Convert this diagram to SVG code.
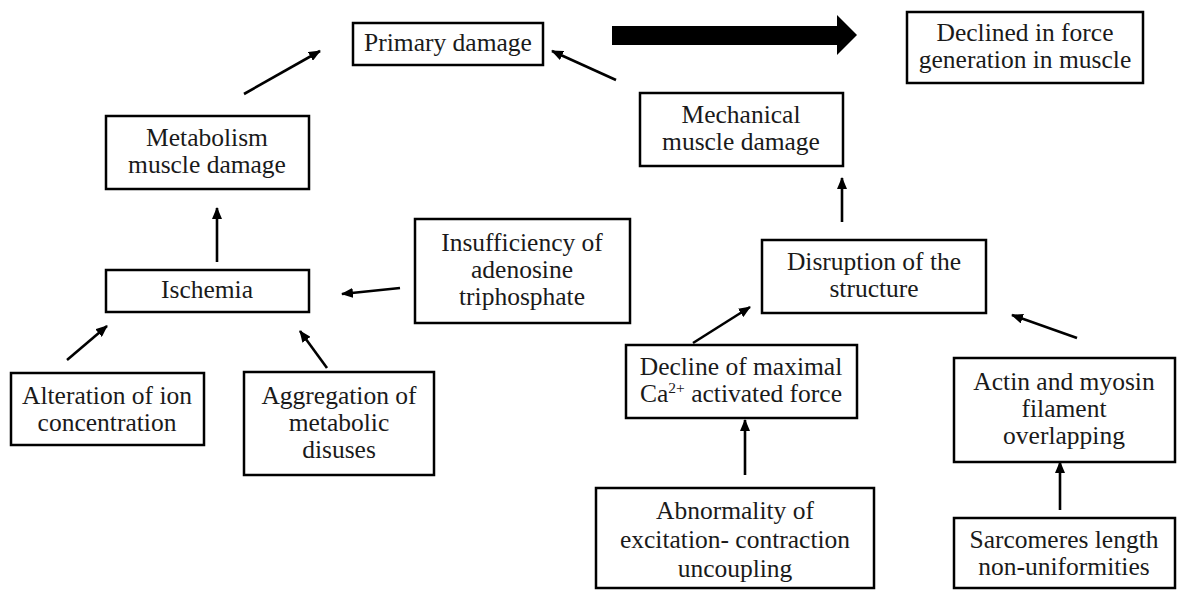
<svg xmlns="http://www.w3.org/2000/svg" width="1180" height="590" viewBox="0 0 1180 590">
<defs>
<style>
.box{fill:#fff;stroke:#000;stroke-width:2.5}
.t{font-family:"Liberation Serif","Times New Roman",serif;font-size:25.5px;fill:#1a1a1a;text-anchor:middle}
.c{stroke:#000;stroke-width:2.6;fill:none;marker-end:url(#ah)}
</style>
<marker id="ah" markerUnits="userSpaceOnUse" markerWidth="12" markerHeight="10" refX="11" refY="5" orient="auto">
<path d="M0,0 L12,5 L0,10 Z" fill="#000"/>
</marker>
</defs>
<rect width="1180" height="590" fill="#fff"/>
<g id="connectors">
<line class="c" x1="244" y1="94" x2="320" y2="51"/>
<line class="c" x1="616" y1="80" x2="552" y2="51"/>
<line class="c" x1="217" y1="262" x2="217" y2="208"/>
<line class="c" x1="400" y1="288" x2="342" y2="294"/>
<line class="c" x1="67" y1="360" x2="107" y2="326"/>
<line class="c" x1="327" y1="368" x2="300" y2="331"/>
<line class="c" x1="842" y1="222" x2="842" y2="178"/>
<line class="c" x1="693" y1="343" x2="750" y2="307"/>
<line class="c" x1="1077" y1="338" x2="1012" y2="315"/>
<line class="c" x1="745" y1="475" x2="745" y2="420"/>
<line class="c" x1="1060" y1="510" x2="1060" y2="462"/>
<polygon points="612,26 837,26 837,15 857,35 837,55 837,45 612,45" fill="#000"/>
</g>
<g id="primary">
<rect class="box" x="353" y="23" width="190" height="42"/>
<text class="t" x="448" y="51">Primary damage</text>
</g>
<g id="declined">
<rect class="box" x="907" y="12" width="236" height="71"/>
<text class="t" x="1025" y="41">Declined in force</text>
<text class="t" x="1025" y="68">generation in muscle</text>
</g>
<g id="metabolism">
<rect class="box" x="106" y="116" width="203" height="73"/>
<text class="t" x="207" y="146">Metabolism</text>
<text class="t" x="207" y="173">muscle damage</text>
</g>
<g id="mechanical">
<rect class="box" x="640" y="93" width="203" height="73"/>
<text class="t" x="741" y="123">Mechanical</text>
<text class="t" x="741" y="150">muscle damage</text>
</g>
<g id="ischemia">
<rect class="box" x="106" y="270" width="203" height="42"/>
<text class="t" x="207" y="298">Ischemia</text>
</g>
<g id="insufficiency">
<rect class="box" x="415" y="219" width="215" height="104"/>
<text class="t" x="522" y="251">Insufficiency of</text>
<text class="t" x="522" y="278">adenosine</text>
<text class="t" x="522" y="305">triphosphate</text>
</g>
<g id="disruption">
<rect class="box" x="762" y="240" width="224" height="73"/>
<text class="t" x="874" y="270">Disruption of the</text>
<text class="t" x="874" y="297">structure</text>
</g>
<g id="decline">
<rect class="box" x="626" y="345" width="231" height="73"/>
<text class="t" x="741" y="375">Decline of maximal</text>
<text class="t" x="741" y="402">Ca<tspan font-size="15.5" dy="-9">2+</tspan><tspan dy="9"> activated force</tspan></text>
</g>
<g id="actin">
<rect class="box" x="954" y="358" width="221" height="104"/>
<text class="t" x="1064" y="390">Actin and myosin</text>
<text class="t" x="1064" y="417">filament</text>
<text class="t" x="1064" y="444">overlapping</text>
</g>
<g id="alteration">
<rect class="box" x="11" y="373" width="193" height="72"/>
<text class="t" x="107" y="404">Alteration of ion</text>
<text class="t" x="107" y="431">concentration</text>
</g>
<g id="aggregation">
<rect class="box" x="244" y="372" width="190" height="103"/>
<text class="t" x="339" y="404">Aggregation of</text>
<text class="t" x="339" y="431">metabolic</text>
<text class="t" x="339" y="458">disuses</text>
</g>
<g id="abnormality">
<rect class="box" x="596" y="488" width="278" height="100"/>
<text class="t" x="735" y="519">Abnormality of</text>
<text class="t" x="735" y="548">excitation- contraction</text>
<text class="t" x="735" y="577">uncoupling</text>
</g>
<g id="sarcomeres">
<rect class="box" x="954" y="518" width="221" height="70"/>
<text class="t" x="1064" y="548">Sarcomeres length</text>
<text class="t" x="1064" y="575">non-uniformities</text>
</g>
</svg>
